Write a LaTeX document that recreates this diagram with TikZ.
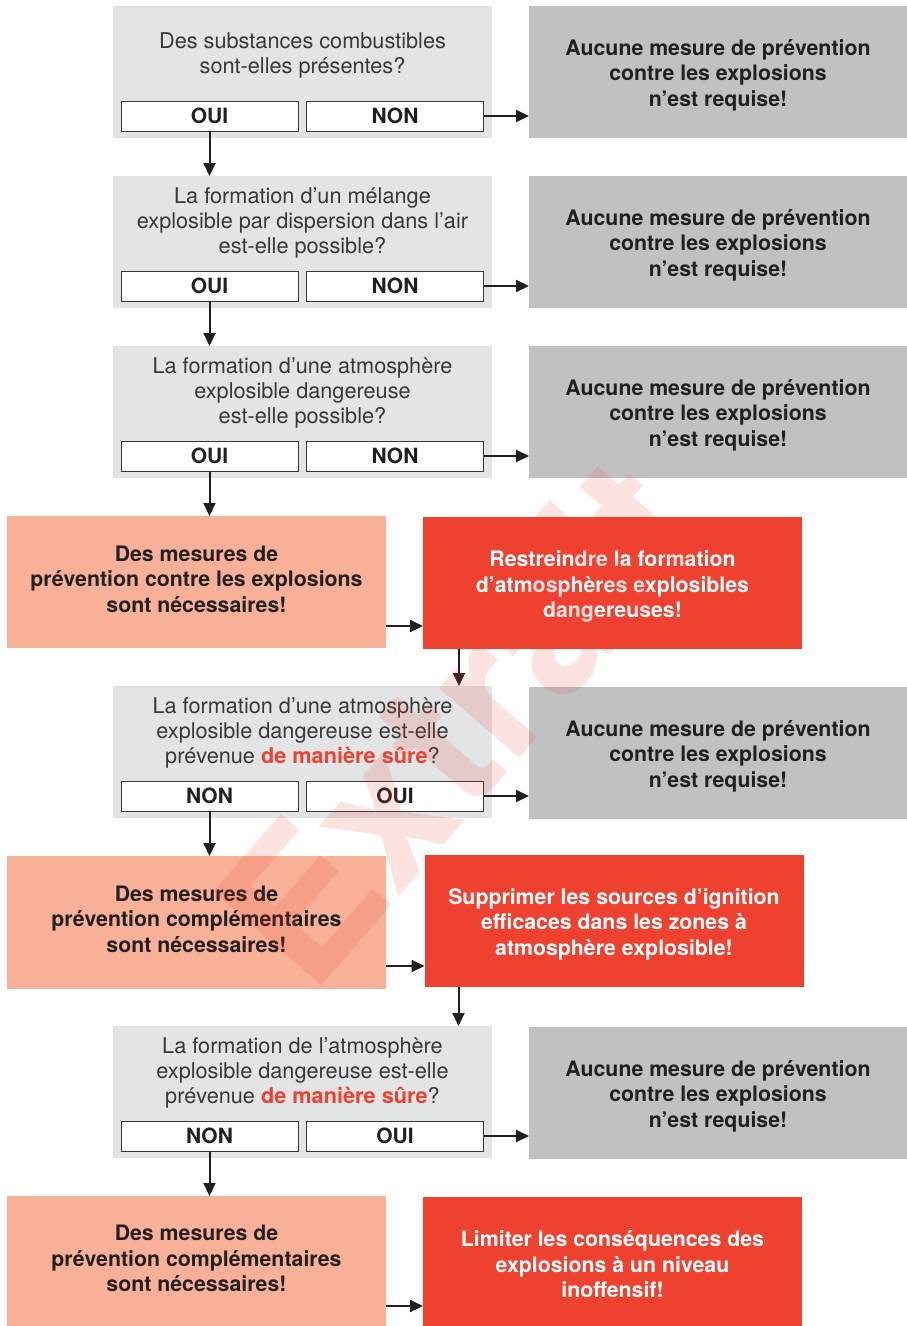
\documentclass[tikz,border=0pt]{standalone}
\usepackage{fontspec}
\setmainfont{TeX Gyre Heros}
\usetikzlibrary{arrows.meta}
\definecolor{qgray}{HTML}{E3E4E5}
\definecolor{agray}{HTML}{C1C1C3}
\definecolor{salmon}{HTML}{F8B098}
\definecolor{alert}{HTML}{EE4130}
\definecolor{ink}{HTML}{231F20}
\definecolor{softink}{HTML}{383838}
\begin{document}
\begin{tikzpicture}[x=1pt,y=-1pt,
  box/.style={rectangle, inner sep=0pt, outer sep=0pt, minimum width=379pt, minimum height=132pt},
  qbox/.style={box, fill=qgray},
  abox/.style={box, fill=agray, minimum width=378pt},
  sbox/.style={box, fill=salmon},
  rbox/.style={box, fill=alert},
  boldtext/.style={inner sep=0pt, font=\fontsize{21.3}{25.5}\selectfont\bfseries, align=center},
  atext/.style={boldtext, text=ink},
  stext/.style={boldtext, text=ink},
  rtext/.style={boldtext, text=white},
  qtext/.style={inner sep=0pt, text=softink, font=\fontsize{21.7}{25.4}\selectfont, align=center},
  btn/.style={rectangle, draw=softink, line width=0.9pt, fill=white, inner sep=0pt, minimum width=177pt, minimum height=30pt, text=ink, font=\fontsize{21}{25}\selectfont\bfseries},
  arr/.style={draw=ink, line width=2pt, -{Triangle[length=13pt,width=12pt]}}]
\useasboundingbox (0,0) rectangle (907,1326);
\newcommand{\sure}{\textcolor{alert}{\bfseries de manière sûre}}
\newcommand{\nomeasure}{Aucune mesure de prévention\\contre les explosions\\n’est requise!}

% ---- question 1
\node[qbox] (q1) at (302.5,72) {};
\node[qtext] (q1t) at (302.5,55.5) {Des substances combustibles\\sont-elles présentes?};
\node[btn] (q1y) at (209.5,116) {\raisebox{-1pt}{OUI}};
\node[btn] (q1n) at (395,116) {\raisebox{-1pt}{NON}};
\node[abox] (a1) at (718,72) {};
\node[atext] (a1t) at ([yshift=-3pt]a1.center) {\nomeasure};

% ---- question 2
\node[qbox] (q2) at (302.5,242) {};
\node[qtext] (q2t) at (302.5,223) {La formation d’un mélange\\explosible par dispersion dans l’air\\est-elle possible?};
\node[btn] (q2y) at (209.5,286) {\raisebox{-1pt}{OUI}};
\node[btn] (q2n) at (395,286) {\raisebox{-1pt}{NON}};
\node[abox] (a2) at (718,242) {};
\node[atext] (a2t) at ([yshift=-3pt]a2.center) {\nomeasure};

% ---- question 3
\node[qbox] (q3) at (302.5,412) {};
\node[qtext] (q3t) at (302.5,393) {La formation d’une atmosphère\\explosible dangereuse\\est-elle possible?};
\node[btn] (q3y) at (209.5,456) {\raisebox{-1pt}{OUI}};
\node[btn] (q3n) at (395,456) {\raisebox{-1pt}{NON}};
\node[abox] (a3) at (718,412) {};
\node[atext] (a3t) at ([yshift=-3pt]a3.center) {\nomeasure};

% ---- measures 1
\node[sbox] (s1) at (196.5,582) {};
\node[stext] (s1t) at ([yshift=3pt]s1.center) {Des mesures de\\prévention contre les explosions\\sont nécessaires!};
\node[rbox] (r1) at (612.5,583) {};
\node[rtext] (r1t) at ([yshift=-3.5pt]r1.center) {Restreindre la formation\\d’atmosphères explosibles\\dangereuses!};

% ---- question 4
\node[qbox] (q4) at (302.5,752) {};
\node[qtext] (q4t) at (302.5,733) {La formation d’une atmosphère\\explosible dangereuse est-elle\\prévenue \sure?};
\node[btn] (q4n) at (209.5,796) {\raisebox{-1pt}{NON}};
\node[btn] (q4y) at (395,796) {\raisebox{-1pt}{OUI}};
\node[abox] (a4) at (718,753) {};
\node[atext] (a4t) at ([yshift=-3pt]a4.center) {\nomeasure};

% ---- measures 2
\node[sbox, minimum height=133pt] (s2) at (196.5,922.5) {};
\node[stext] (s2t) at ([yshift=3.5pt]s2.center) {Des mesures de\\prévention complémentaires\\sont nécessaires!};
\node[rbox] (r2) at (614,921) {};
\node[rtext] (r2t) at ([yshift=-3pt]r2.center) {Supprimer les sources d’ignition\\efficaces dans les zones à\\atmosphère explosible!};

% ---- question 5
\node[qbox] (q5) at (302.5,1092) {};
\node[qtext] (q5t) at (302.5,1073) {La formation de l’atmosphère\\explosible dangereuse est-elle\\prévenue \sure?};
\node[btn] (q5n) at (209.5,1136) {\raisebox{-1pt}{NON}};
\node[btn] (q5y) at (395,1136) {\raisebox{-1pt}{OUI}};
\node[abox] (a5) at (718,1093) {};
\node[atext] (a5t) at ([yshift=-3pt]a5.center) {\nomeasure};

% ---- measures 3
\node[sbox, minimum height=130pt] (s3) at (196.5,1261) {};
\node[stext] (s3t) at ([yshift=2.5pt]s3.center) {Des mesures de\\prévention complémentaires\\sont nécessaires!};
\node[rbox, minimum height=129pt] (r3) at (612.5,1261.5) {};
\node[rtext] (r3t) at ([yshift=-3pt]r3.center) {Limiter les conséquences des\\explosions à un niveau\\inoffensif!};

% ---- connectors
\draw[arr] (q1n.east) -- (q1n.east -| a1.west);
\draw[arr] (q2n.east) -- (q2n.east -| a2.west);
\draw[arr] (q3n.east) -- (q3n.east -| a3.west);
\draw[arr] (q4y.east) -- (q4y.east -| a4.west);
\draw[arr] (q5y.east) -- (q5y.east -| a5.west);

\draw[arr] (q1y.south) -- (q1y.south |- q2.north);
\draw[arr] (q2y.south) -- (q2y.south |- q3.north);
\draw[arr] (q3y.south) -- (q3y.south |- s1.north);
\draw[arr] (q4n.south) -- (q4n.south |- s2.north);
\draw[arr] (q5n.south) -- (q5n.south |- s3.north);

\draw[arr] ([yshift=-44pt]s1.east) -- ([yshift=-44pt]s1.east -| r1.west);
\draw[arr] ([yshift=-43.5pt]s2.east) -- ([yshift=-43.5pt]s2.east -| r2.west);
\draw[arr] ([yshift=-45pt]s3.east) -- ([yshift=-45pt]s3.east -| r3.west);

\draw[arr] ([xshift=36pt]r1.south west) -- ([xshift=36pt]r1.south west |- q4.north);
\draw[arr] ([xshift=34pt]r2.south west) -- ([xshift=34pt]r2.south west |- q5.north);

% ---- watermark
\node[rotate=49, text=alert, text opacity=0.15, font=\fontsize{196}{196}\selectfont\bfseries, inner sep=0pt] (wm) at (457,720) {Extrait};
\end{tikzpicture}
\end{document}
